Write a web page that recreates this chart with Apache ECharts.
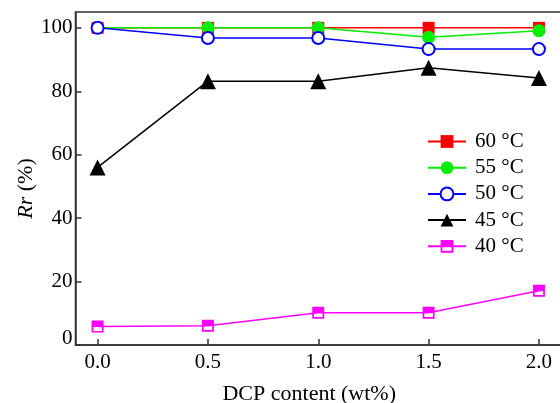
<!DOCTYPE html>
<html><head><meta charset="utf-8">
<script src="https://cdn.jsdelivr.net/npm/echarts@6/dist/echarts.min.js"></script>
<style>html,body{margin:0;padding:0;background:#fff}#c{width:560px;height:403px}</style>
</head><body><div id="c"></div>
<script>
var xValues = [0, 0.5, 1.0, 1.5, 2.0];
var xTicks = [0, 0.5, 1.0, 1.5, 2.0];
var yTicks = [0, 20, 40, 60, 80, 100];
var seriesNames = ['60 °C', '55 °C', '50 °C', '45 °C', '40 °C'];
var r60 = [100, 100, 100, 100, 100];
var r55 = [100, 100, 100, 97.0, 99.1];
var r50 = [100, 96.8, 96.8, 93.3, 93.3];
var r45 = [56.0, 83.2, 83.2, 87.4, 84.2];
var r40 = [5.8, 6.1, 10.2, 10.2, 17.1];

var FONT = 'Liberation Serif';
var halfSquare = 'path://M0 0 L14 0 L14 14 L0 14 Z M2 7.5 L2 12 L12 12 L12 7.5 Z';

function pairs(ys) { return xValues.map(function (x, i) { return [x, ys[i]]; }); }

function mk(name, data, color, symbol, size, itemStyle) {
  return {
    name: name, type: 'line', data: pairs(data), symbol: symbol, symbolSize: size,
    lineStyle: { color: color, width: 1.5 },
    itemStyle: itemStyle || { color: color },
    emphasis: { disabled: true }, animation: false
  };
}

var chart = echarts.init(document.getElementById('c'));
chart.setOption({
  animation: false,
  backgroundColor: '#fff',
  grid: { left: 75.5, top: 12, right: -1, bottom: 58, outerBoundsMode: 'none', containLabel: false,
    show: true, borderColor: '#333', borderWidth: 1.5, backgroundColor: 'transparent' },
  xAxis: {
    type: 'value', min: -0.1, max: 2.1,
    name: 'DCP content (wt%)', nameLocation: 'middle', nameGap: 38, nameMoveOverlap: false,
    nameTextStyle: { fontFamily: FONT, fontSize: 22, color: '#000', padding: [0, 18, 0, 0] },
    axisLine: { show: true, onZero: false, lineStyle: { color: '#333', width: 1.5 } },
    axisTick: { show: true, inside: true, length: 6, customValues: xTicks, lineStyle: { color: '#333', width: 1.5 } },
    axisLabel: { customValues: xTicks, margin: 7, fontFamily: FONT, fontSize: 21, color: '#000',
      formatter: function (v) { return v.toFixed(1); } },
    splitLine: { show: false }
  },
  yAxis: {
    type: 'value', min: 0, max: 105,
    name: '{i|Rr} (%)', nameLocation: 'middle', nameGap: 38, nameMoveOverlap: false,
    nameTextStyle: { fontFamily: FONT, fontSize: 22, color: '#000', padding: [0, 20, 0, 0],
      rich: { i: { fontFamily: FONT, fontSize: 22, fontStyle: 'italic', color: '#000' } } },
    axisLine: { show: true, onZero: false, lineStyle: { color: '#333', width: 1.5 } },
    axisTick: { show: true, inside: true, length: 6, customValues: yTicks, lineStyle: { color: '#333', width: 1.5 } },
    axisLabel: { customValues: yTicks, margin: 3, fontFamily: FONT, fontSize: 21, color: '#000',
      formatter: function (v) { return v === 0 ? '{z|0}' : String(v); },
      rich: { z: { fontFamily: FONT, fontSize: 21, color: '#000', padding: [0, 0, 14, 0] } } },
    splitLine: { show: false }
  },
  legend: {
    orient: 'vertical', left: 427, top: 131, padding: 0, itemWidth: 38, itemHeight: 16, itemGap: 5.2,
    data: seriesNames,
    textStyle: { fontFamily: FONT, fontSize: 21, color: '#000', lineHeight: 16, padding: [0, 0, 0, 4] }
  },
  series: [
    mk(seriesNames[0], r60, '#ff0000', 'rect', 12),
    mk(seriesNames[1], r55, '#00ee00', 'circle', 13),
    mk(seriesNames[2], r50, '#0000ff', 'emptyCircle', 12, { color: '#0000ff', borderColor: '#0000ff', borderWidth: 2 }),
    mk(seriesNames[3], r45, '#000000', 'triangle', 16),
    mk(seriesNames[4], r40, '#ff00ff', halfSquare, 12)
  ]
});
</script></body></html>
